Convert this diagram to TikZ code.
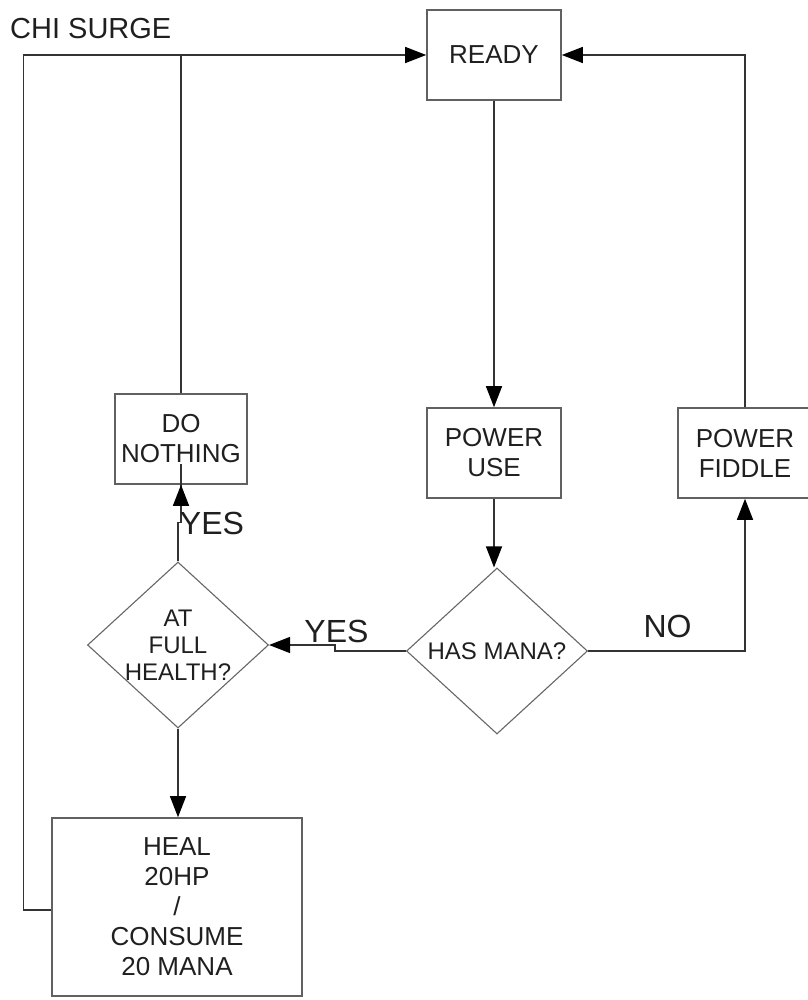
\documentclass[tikz,border=0pt]{standalone}
\usepackage{fontspec}
\setmainfont{Liberation Sans}
\usetikzlibrary{arrows.meta,shapes.geometric}

\begin{document}
\begin{tikzpicture}[x=1pt,y=-1pt,
  every node/.style={text=black!88},
  stepbox/.style={rectangle, draw=black!62, line width=1.6pt, inner sep=0pt,
    align=center, font=\fontsize{26}{30}\selectfont},
  choice/.style={diamond, draw=black!60, line width=1.1pt, inner sep=0pt,
    minimum width=181pt, minimum height=166pt, align=center,
    font=\fontsize{24}{27}\selectfont},
  choicetext/.style={align=center, inner sep=0pt, text=black!88,
    font=\fontsize{24}{27}\selectfont},
  link/.style={draw=black!80, line width=1.3pt},
  flow/.style={link, -{Triangle[length=21pt,width=16pt,color=black]}},
  answer/.style={font=\fontsize{32}{36}\selectfont, inner sep=0pt, anchor=base}
]
\useasboundingbox (0,0) rectangle (807,1000);

% title
\node[font=\fontsize{29}{33}\selectfont, inner sep=0pt, anchor=base west] (title) at (10,39) {CHI SURGE};

% process boxes
\node[stepbox, minimum width=134pt, minimum height=90pt] (ready)  at (494,55)  {READY};
\node[stepbox, minimum width=134pt, minimum height=90pt] (use)    at (494,453) {POWER\\USE};
\node[stepbox, minimum width=134pt, minimum height=90pt] (fiddle) at (745,453) {POWER\\FIDDLE};
\node[stepbox, minimum width=132pt, minimum height=90pt] (idle)   at (181,439) {DO\\NOTHING};
\node[stepbox, minimum width=250pt, minimum height=178pt] (heal)  at (177,907)
  {HEAL\\20HP\\/\\CONSUME\\20 MANA};

% decisions
\node[choice] (mana) at (497,651) {HAS MANA?};
\node[choice, label={[choicetext]center:AT\\FULL\\HEALTH?}] (full) at (178,645) {};

% connectors
\draw[flow] (ready.south) -- (use.north);
\draw[flow] (use.south) -- (use.south |- mana.north);
\draw[flow] (mana.east) -| (fiddle.south);
\draw[flow] (fiddle.north) |- (ready.east);
\draw[flow] (mana.west) -- ++(-71,0) |- (full.east);
\draw[flow] (full.north) -- ++(0,-39) -- ++(3,0) |- (idle.south);
\draw[flow] (full.south) -- (full.south |- heal.north);
\draw[flow] ([yshift=-3pt]heal.west) -- ++(-28,0) |- (ready.west);
\draw[link] (idle.north) -- (idle.north |- ready.west);

% branch labels
\node[answer] (yesup)   at (212,534)   {YES};
\node[answer] (yesleft) at (336.5,642) {YES};
\node[answer] (no)      at (667.5,637) {NO};
\end{tikzpicture}
\end{document}
